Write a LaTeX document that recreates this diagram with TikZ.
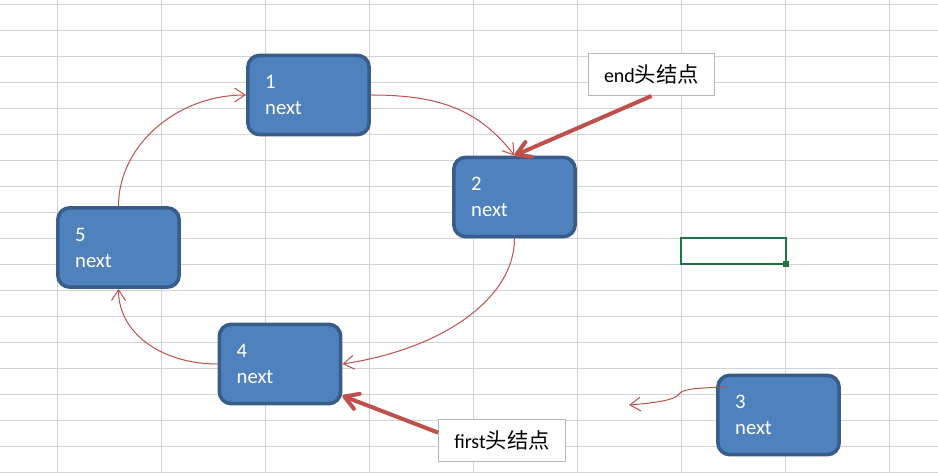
\documentclass[tikz,border=0pt]{standalone}
\usepackage{fontspec}
\setmainfont{Carlito}
\newfontfamily\cjk{Noto Sans CJK SC}
\usetikzlibrary{arrows.meta,calc}
\definecolor{nodefill}{HTML}{4F81BD}
\definecolor{nodeedge}{HTML}{385D8A}
\definecolor{linkred}{HTML}{C0504D}
\definecolor{gridgray}{HTML}{D4D4D4}
\definecolor{labelgray}{HTML}{B8B8B8}
\definecolor{selgreen}{HTML}{217346}
\begin{document}
\begin{tikzpicture}[x=0.75pt,y=-0.75pt,
  gridline/.style={draw=gridgray,line width=0.75pt},
  listnode/.style={rectangle,rounded corners=9pt,draw=nodeedge,line width=2.7pt,
    fill=nodefill,text=white,minimum width=91pt,minimum height=59.5pt,
    text width=65pt,inner xsep=13pt,align=left,
    font=\fontsize{15.5}{19.5}\selectfont},
  labelbox/.style={rectangle,draw=labelgray,fill=white,line width=0.75pt,
    minimum width=95pt,minimum height=31.5pt,inner sep=0pt,text=black,
    font=\fontsize{15}{18}\selectfont},
  cjktext/.style={},
  link/.style={draw=linkred,line width=0.75pt,-{Straight Barb[length=8pt,width=10.5pt]}},
  headarrow/.style={draw=linkred,line width=3pt,-{Straight Barb[length=10pt,width=12pt,round]}}
]
\useasboundingbox (0,0) rectangle (938,473);
\fill[white] (0,0) rectangle (938,473);
% spreadsheet grid
\foreach \i in {0,...,8}
  \draw[gridline] ({57.5+104*\i},0) -- ({57.5+104*\i},473);
\foreach \j in {0,...,18}
  \draw[gridline] (0,{4.3+26*\j}) -- (938,{4.3+26*\j});
% selected cell
\draw[selgreen,line width=1.5pt] (681,238) rectangle (786,264);
\fill[selgreen] (783,261) rectangle (789,267);
% list nodes
\node[listnode] (n1) at (308.5,95) {1\\next};
\node[listnode] (n2) at (514.5,197) {2\\next};
\node[listnode] (n5) at (118.5,247.5) {5\\next};
\node[listnode] (n4) at (280,364) {4\\next};
\node[listnode] (n3) at (778.5,415) {3\\next};
% head labels
\node[labelbox] (endl) at (651.5,74.5) {end{\cjk\fontsize{16}{18}\selectfont 头结点}};
\node[labelbox] (firstl) at (502,440.5) {first{\cjk\fontsize{16}{18}\selectfont 头结点}};
% links
\draw[link] (n1.east) .. controls +(70,0) and +(-35,-45) .. (n2.north);
\draw[link] (n2.south) .. controls +(0,60) and +(100,-15) .. (n4.east);
\draw[link] (n4.west) .. controls +(-55,0) and +(0,45) .. (n5.south);
\draw[link] (n5.north) .. controls +(0,-60) and +(-70,0) .. (n1.west);
\coordinate (loose) at (629,405);
\draw[link] ($(n3.center)+(-51,-28)$) .. controls +(-25,1) and +(4,-6) .. (679,394)
  .. controls +(-3,6) and +(25,-2) .. (loose);
% head pointers
\draw[headarrow] (endl.south) -- (n2.north);
\draw[headarrow] (firstl.173) -- (n4.-27);
\end{tikzpicture}
\end{document}
